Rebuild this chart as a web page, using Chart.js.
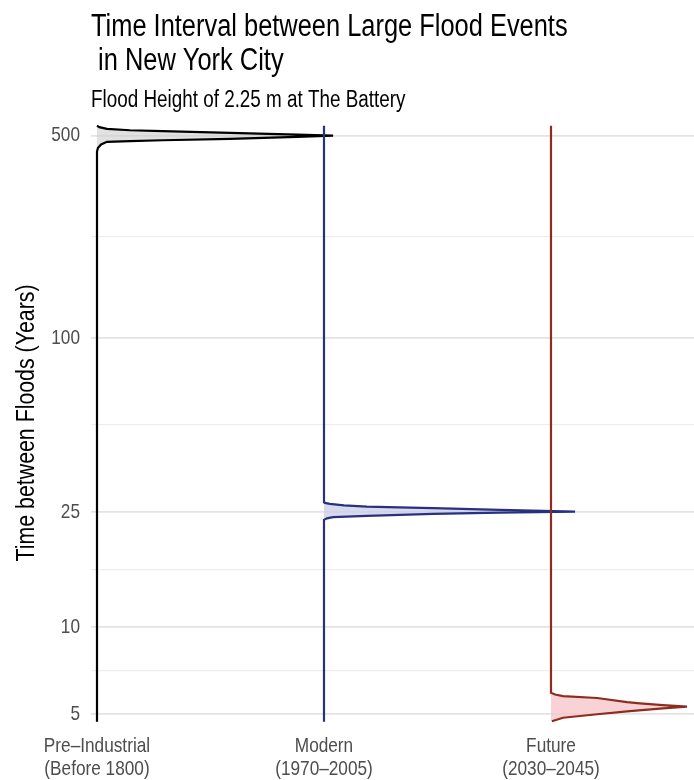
<!DOCTYPE html>
<html>
<head>
<meta charset="utf-8">
<title>Time Interval between Large Flood Events in New York City</title>
<style>
  html, body { margin: 0; padding: 0; background: #ffffff; }
  #wrap { width: 694px; height: 780px; }
</style>
<script src="https://cdn.jsdelivr.net/npm/chart.js@4.4.1/dist/chart.umd.min.js"></script>
</head>
<body>
<div id="wrap"><canvas id="chart" width="694" height="780"></canvas></div>
<script>
// ---- text ----
const titleLines = ['Time Interval between Large Flood Events', ' in New York City'];
const subtitleText = 'Flood Height of 2.25 m at The Battery';
const yAxisTitle = 'Time between Floods (Years)';

// ---- categories (placed at 0, 1, 2 on the horizontal axis) ----
const categories = [
  ['Pre\u2013Industrial', '(Before 1800)'],
  ['Modern', '(1970\u20132005)'],
  ['Future', '(2030\u20132045)']
];
const categoryPositions = [0, 1, 2];

// ---- vertical axis ticks (years, log scale) ----
const majorTicks = [5, 10, 25, 100, 500];
const minorTicks = [7.07, 15.8, 50, 223.6];

// ---- density profiles: return period (years) and density width (in category widths) ----
const preIndustrialYears   = [4.7, 440, 453, 466, 476, 479, 482, 487, 495, 500, 504, 511, 518, 522, 528, 535, 541.5];
const preIndustrialDensity = [0, 0, 0.004, 0.018, 0.044, 0.145, 0.29, 0.586, 0.881, 1.04, 0.881, 0.586, 0.29, 0.145, 0.044, 0.01, 0];

const modernYears   = [4.7, 23.46, 23.75, 23.97, 24.22, 24.42, 24.60, 24.86, 25.06, 25.41, 25.76, 25.92, 26.08, 26.33, 26.65, 26.86, 26.97, 541.5];
const modernDensity = [0, 0, 0.013, 0.04, 0.189, 0.335, 0.48, 0.775, 1.106, 0.775, 0.48, 0.33, 0.189, 0.088, 0.026, 0.004, 0, 0];

const futureYears   = [4.72, 4.855, 4.99, 5.12, 5.23, 5.30, 5.37, 5.445, 5.50, 5.68, 5.77, 5.84, 5.925, 541.5];
const futureDensity = [0.004, 0.053, 0.203, 0.348, 0.493, 0.599, 0.493, 0.392, 0.335, 0.203, 0.053, 0.018, 0, 0];

// ---- styling ----
const FONT = "'Liberation Sans', Arial, sans-serif";
const NARROW = 0.82;   // horizontal squeeze that turns the sans face into a narrow face
const gridValues = majorTicks.concat(minorTicks).sort((a, b) => a - b);

// Draw all chart text in a narrow cut: each fillText is squeezed horizontally around its anchor.
const narrowText = {
  id: 'narrowText',
  beforeInit(chart) {
    const ctx = chart.ctx;
    const baseFill = ctx.fillText.bind(ctx);
    ctx.fillText = function (text, x, y, maxWidth) {
      this.save();
      this.translate(x, y);
      this.scale(NARROW, 1);
      if (maxWidth === undefined) baseFill(text, 0, 0);
      else baseFill(text, 0, 0, maxWidth / NARROW);
      this.restore();
    };
  }
};

function profile(years, density, base) {
  return years.map((y, i) => ({ x: base + density[i], y: y }));
}

function series(label, years, density, base, stroke, fillColor, order) {
  return {
    label: label,
    data: profile(years, density, base),
    borderColor: stroke,
    backgroundColor: fillColor,
    borderWidth: 2.2,
    pointRadius: 0,
    pointHoverRadius: 0,
    tension: 0,
    fill: { value: base },
    order: order
  };
}

new Chart(document.getElementById('chart'), {
  type: 'line',
  plugins: [narrowText],
  data: {
    datasets: [
      series('Pre-Industrial', preIndustrialYears, preIndustrialDensity, categoryPositions[0], '#000000', 'rgba(205,205,205,0.6)', 3),
      series('Modern', modernYears, modernDensity, categoryPositions[1], '#29307f', 'rgba(200,205,230,0.75)', 2),
      series('Future', futureYears, futureDensity, categoryPositions[2], '#8e2c20', 'rgba(245,195,198,0.75)', 1)
    ]
  },
  options: {
    responsive: false,
    animation: false,
    devicePixelRatio: 1,
    indexAxis: 'y',
    layout: { padding: 0 },
    events: [],
    plugins: {
      legend: { display: false },
      tooltip: { enabled: false },
      title: {
        display: true,
        text: titleLines,
        align: 'start',
        fullSize: false,
        color: '#000000',
        font: { family: FONT, size: 31, weight: 'normal', lineHeight: 1.08 },
        padding: { top: 11, bottom: 0 }
      },
      subtitle: {
        display: true,
        text: subtitleText,
        align: 'start',
        fullSize: false,
        color: '#000000',
        font: { family: FONT, size: 23, weight: 'normal', lineHeight: 1.15 },
        padding: { top: 9, bottom: 8 }
      }
    },
    scales: {
      x: {
        type: 'linear',
        min: -0.0264,
        max: 2.63,
        bounds: 'data',
        grid: { display: false },
        border: { display: false },
        afterBuildTicks: (scale) => { scale.ticks = categoryPositions.map(v => ({ value: v })); },
        afterFit: (scale) => { scale.height = 55.5; },
        ticks: {
          autoSkip: false,
          maxRotation: 0,
          padding: 2,
          color: '#4d4d4d',
          font: { family: FONT, size: 21, lineHeight: 1.1 },
          callback: (value, index) => categories[index]
        }
      },
      y: {
        type: 'logarithmic',
        min: 4.6,
        max: 560,
        bounds: 'data',
        border: { display: false },
        afterBuildTicks: (scale) => { scale.ticks = gridValues.map(v => ({ value: v })); },
        afterFit: (scale) => { scale.width = 91; },
        grid: {
          drawTicks: false,
          color: (ctx) => (ctx.tick && majorTicks.includes(ctx.tick.value)) ? '#e3e3e3' : '#eeeeee',
          lineWidth: (ctx) => (ctx.tick && majorTicks.includes(ctx.tick.value)) ? 1.8 : 1.2
        },
        ticks: {
          autoSkip: false,
          padding: 11,
          color: '#4d4d4d',
          font: { family: FONT, size: 21 },
          callback: (value) => majorTicks.includes(value) ? String(value) : ''
        },
        title: {
          display: true,
          text: yAxisTitle,
          color: '#000000',
          font: { family: FONT, size: 26, weight: 'normal' },
          padding: { top: 11, bottom: 0 }
        }
      }
    }
  }
});
</script>
</body>
</html>
